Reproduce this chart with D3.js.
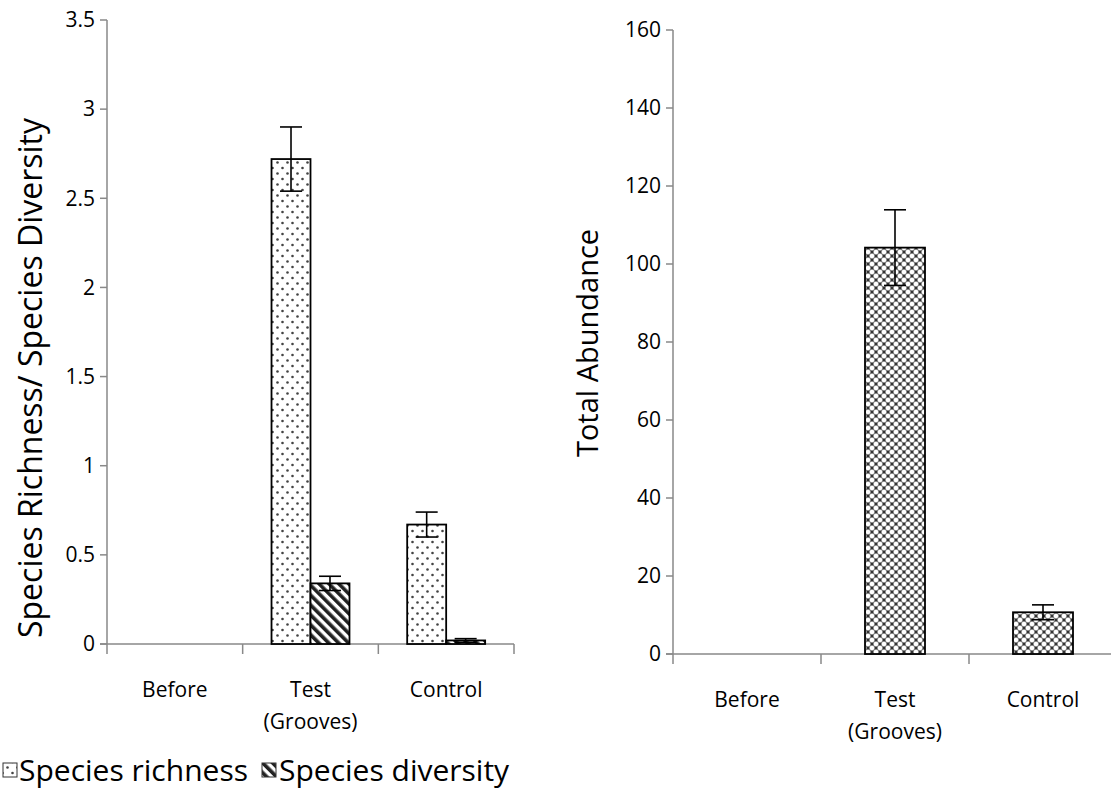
<!DOCTYPE html>
<html>
<head>
<meta charset="utf-8">
<script src="https://cdn.jsdelivr.net/npm/d3@7"></script>
<style>
  body { margin: 0; background: #fff; }
  svg text { font-family: "Open Sans", sans-serif; fill: #000; }
</style>
</head>
<body>
<div id="chart"></div>
<script>
// Data
const categories = ["Before", "Test\n(Grooves)", "Control"];
const richness = [0, 2.72, 0.67];
const richnessErr = [0, 0.18, 0.07];
const diversity = [0, 0.34, 0.02];
const diversityErr = [0, 0.04, 0.01];
const abundance = [0, 104.2, 10.7];
const abundanceErr = [0, 9.7, 1.9];
const leftTicks = [0, 0.5, 1, 1.5, 2, 2.5, 3, 3.5];
const rightTicks = [0, 20, 40, 60, 80, 100, 120, 140, 160];

const W = 1111, H = 803;
const axisColor = "#898989";

const svg = d3.select("#chart").append("svg")
    .attr("width", W).attr("height", H);

// Fill patterns
const defs = svg.append("defs");
const dots = defs.append("pattern").attr("id", "dots")
    .attr("patternUnits", "userSpaceOnUse").attr("width", 10).attr("height", 11);
dots.append("rect").attr("width", 10).attr("height", 11).attr("fill", "#fff");
dots.append("circle").attr("cx", 2.5).attr("cy", 3).attr("r", 1.3).attr("fill", "#444");
dots.append("circle").attr("cx", 7.5).attr("cy", 8.5).attr("r", 1.3).attr("fill", "#444");

const stripes = defs.append("pattern").attr("id", "stripes")
    .attr("patternUnits", "userSpaceOnUse").attr("width", 7).attr("height", 7)
    .attr("patternTransform", "rotate(-45)");
stripes.append("rect").attr("width", 7).attr("height", 7).attr("fill", "#fff");
stripes.append("rect").attr("width", 3.6).attr("height", 7).attr("fill", "#222");

const checks = defs.append("pattern").attr("id", "checks")
    .attr("patternUnits", "userSpaceOnUse").attr("width", 8).attr("height", 8);
checks.append("rect").attr("width", 8).attr("height", 8).attr("fill", "#7a7a7a");
[[0, 0], [8, 0], [0, 8], [8, 8], [4, 4]].forEach(p => checks.append("circle")
    .attr("cx", p[0]).attr("cy", p[1]).attr("r", 2.3).attr("fill", "#fff"));
[[0, 4], [4, 0], [8, 4], [4, 8]].forEach(p => checks.append("circle")
    .attr("cx", p[0]).attr("cy", p[1]).attr("r", 1.1).attr("fill", "#222"));

function drawAxes(g, x, y, ticks, fmt, xEnd) {
    const [y0, y1] = y.range();
    const x0 = x.range()[0];
    // y axis line + ticks
    g.append("line").attr("x1", x0).attr("x2", x0).attr("y1", y1).attr("y2", y0 + 10)
        .attr("stroke", axisColor).attr("stroke-width", 1.5);
    ticks.forEach(t => {
        g.append("line").attr("x1", x0 - 7).attr("x2", x0).attr("y1", y(t)).attr("y2", y(t))
            .attr("stroke", axisColor).attr("stroke-width", 1.5);
        g.append("text").attr("x", x0 - 12).attr("y", y(t)).attr("dy", "0.35em")
            .attr("text-anchor", "end").style("font-size", "21px").text(fmt(t));
    });
    // x axis line + category ticks
    g.append("line").attr("x1", x0 - 7).attr("x2", xEnd).attr("y1", y0).attr("y2", y0)
        .attr("stroke", axisColor).attr("stroke-width", 1.5);
    const step = x.step();
    for (let i = 1; i <= categories.length; i++) {
        const xt = x0 + i * step;
        g.append("line").attr("x1", xt).attr("x2", xt).attr("y1", y0).attr("y2", y0 + 10)
            .attr("stroke", axisColor).attr("stroke-width", 1.5);
    }
    // category labels
    categories.forEach(c => {
        const lines = c.split("\n");
        const t = g.append("text").attr("text-anchor", "middle")
            .attr("x", x(c) + x.bandwidth() / 2).attr("y", y0 + 53)
            .style("font-size", "21px");
        lines.forEach((l, i) => t.append("tspan").attr("x", x(c) + x.bandwidth() / 2)
            .attr("dy", i === 0 ? 0 : 32).text(l));
    });
}

function errBar(g, cx, y, v, e, cap) {
    if (e <= 0) return;
    g.append("line").attr("x1", cx).attr("x2", cx).attr("y1", y(v + e)).attr("y2", y(v - e))
        .attr("stroke", "#000").attr("stroke-width", 1.6);
    [v + e, v - e].forEach(val => g.append("line")
        .attr("x1", cx - cap).attr("x2", cx + cap).attr("y1", y(val)).attr("y2", y(val))
        .attr("stroke", "#000").attr("stroke-width", 1.6));
}

// ---- Left chart ----
const gL = svg.append("g");
const xL = d3.scaleBand().domain(categories).range([107, 514]).paddingInner(0).paddingOuter(0);
const yL = d3.scaleLinear().domain([0, 3.5]).range([644, 20]);
drawAxes(gL, xL, yL, leftTicks, d => d, 514);

const sub = d3.scaleBand().domain(["r", "d"]).range([0, xL.bandwidth()]).paddingOuter(0.74).paddingInner(0);
categories.forEach((c, i) => {
    const xr = xL(c) + sub("r"), xd = xL(c) + sub("d"), bw = sub.bandwidth();
    gL.append("rect").attr("x", xr).attr("y", yL(richness[i])).attr("width", bw)
        .attr("height", yL(0) - yL(richness[i])).attr("fill", "url(#dots)")
        .attr("stroke", "#000").attr("stroke-width", 1.8);
    gL.append("rect").attr("x", xd).attr("y", yL(diversity[i])).attr("width", bw)
        .attr("height", yL(0) - yL(diversity[i])).attr("fill", "url(#stripes)")
        .attr("stroke", "#000").attr("stroke-width", 1.8);
    errBar(gL, xr + bw / 2, yL, richness[i], richnessErr[i], 11);
    errBar(gL, xd + bw / 2, yL, diversity[i], diversityErr[i], 11);
});

gL.append("text").attr("transform", "translate(42,378) rotate(-90)")
    .attr("text-anchor", "middle").style("font-size", "32px")
    .text("Species Richness/ Species Diversity");

// Legend
const leg = svg.append("g").attr("transform", "translate(0,770)");
leg.append("rect").attr("x", 3).attr("y", -7).attr("width", 14).attr("height", 14)
    .attr("fill", "url(#dots)").attr("stroke", "#333").attr("stroke-width", 1);
leg.append("text").attr("x", 19).attr("y", 0).attr("dy", "0.35em").style("font-size", "30px").text("Species richness");
leg.append("rect").attr("x", 262).attr("y", -7).attr("width", 14).attr("height", 14)
    .attr("fill", "url(#stripes)").attr("stroke", "#333").attr("stroke-width", 1);
leg.append("text").attr("x", 279).attr("y", 0).attr("dy", "0.35em").style("font-size", "30px").text("Species diversity");

// ---- Right chart ----
const gR = svg.append("g");
const xR = d3.scaleBand().domain(categories).range([673, 1117]).paddingInner(0).paddingOuter(0);
const yR = d3.scaleLinear().domain([0, 160]).range([654, 30]);
drawAxes(gR, xR, yR, rightTicks, d => d, 1111);

categories.forEach((c, i) => {
    const bw = 60, cx = xR(c) + xR.bandwidth() / 2;
    gR.append("rect").attr("x", cx - bw / 2).attr("y", yR(abundance[i])).attr("width", bw)
        .attr("height", yR(0) - yR(abundance[i])).attr("fill", "url(#checks)")
        .attr("stroke", "#000").attr("stroke-width", 1.8);
    errBar(gR, cx, yR, abundance[i], abundanceErr[i], 11);
});

gR.append("text").attr("transform", "translate(598,343) rotate(-90)")
    .attr("text-anchor", "middle").style("font-size", "29px").text("Total Abundance");
</script>
</body>
</html>
